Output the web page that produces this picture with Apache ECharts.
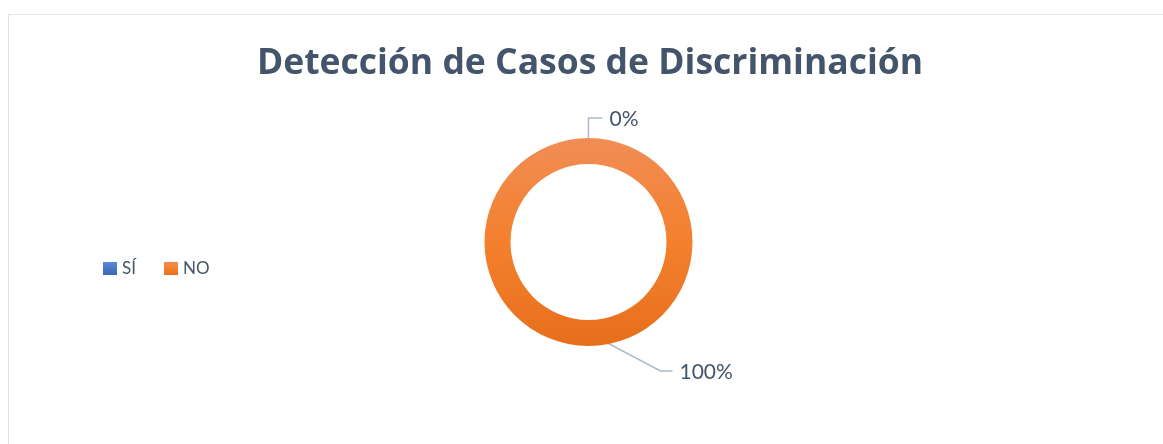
<!DOCTYPE html>
<html>
<head>
<meta charset="utf-8">
<script src="https://cdn.jsdelivr.net/npm/echarts@6/dist/echarts.min.js"></script>
<style>
  html, body { margin: 0; padding: 0; background: #fff; overflow: hidden; }
  #main {
    position: absolute; left: 8px; top: 14px;
    width: 1162px; height: 440px;
    border: 1px solid #DDE3EA;
  }
</style>
</head>
<body>
<div id="main"></div>
<script>
const categories = ['SÍ', 'NO']
const values = [0, 100]
const labelTexts = ['0%', '100%']

const CX = 579.5
const CY = 227
const R0 = 78
const R = 104

const sliceColors = [
  new echarts.graphic.LinearGradient(0, 0, 0, 1, [
    { offset: 0, color: '#5A87D6' },
    { offset: 1, color: '#3A66B8' }
  ]),
  new echarts.graphic.LinearGradient(0, 0, 0, 1, [
    { offset: 0, color: '#F18D55' },
    { offset: 0.5, color: '#F3802D' },
    { offset: 1, color: '#E76F1C' }
  ])
]

const chart = echarts.init(document.getElementById('main'))
const option = {
  animation: false,
  title: {
    text: 'Detección de Casos de Discriminación',
    left: 'center',
    top: 26,
    textStyle: { fontFamily: 'Open Sans', fontWeight: 'bold', fontSize: 35.5, color: '#44546A' }
  },
  legend: {
    orient: 'horizontal',
    left: 89,
    top: 240,
    itemWidth: 14,
    itemHeight: 13,
    itemGap: 28,
    icon: 'rect',
    textStyle: { fontFamily: 'Lato', fontSize: 17, color: '#44546A' },
    data: categories
  },
  series: [{
    type: 'pie',
    center: [CX, CY],
    radius: [R0, R],
    startAngle: 90,
    clockwise: true,
    avoidLabelOverlap: false,
    label: {
      show: true,
      formatter: p => labelTexts[p.dataIndex],
      fontFamily: 'Lato',
      fontSize: 21,
      color: '#44546A'
    },
    labelLine: { show: true, lineStyle: { color: '#ADB9CA', width: 1.5 } },
    labelLayout: function (p) {
      if (p.dataIndex === 0) {
        return {
          x: CX + 21, y: CY - 123, align: 'left', verticalAlign: 'middle',
          labelLinePoints: [[CX, CY - 92], [CX, CY - 124], [CX + 14, CY - 124]]
        }
      }
      return {
        x: CX + 91, y: CY + 130, align: 'left', verticalAlign: 'middle',
        labelLinePoints: [[CX, CY + 91], [CX + 72, CY + 129], [CX + 84, CY + 129]]
      }
    },
    data: categories.map((c, i) => ({
      name: c,
      value: values[i],
      itemStyle: { color: sliceColors[i] }
    }))
  }]
}
option && chart.setOption(option)
</script>
</body>
</html>
